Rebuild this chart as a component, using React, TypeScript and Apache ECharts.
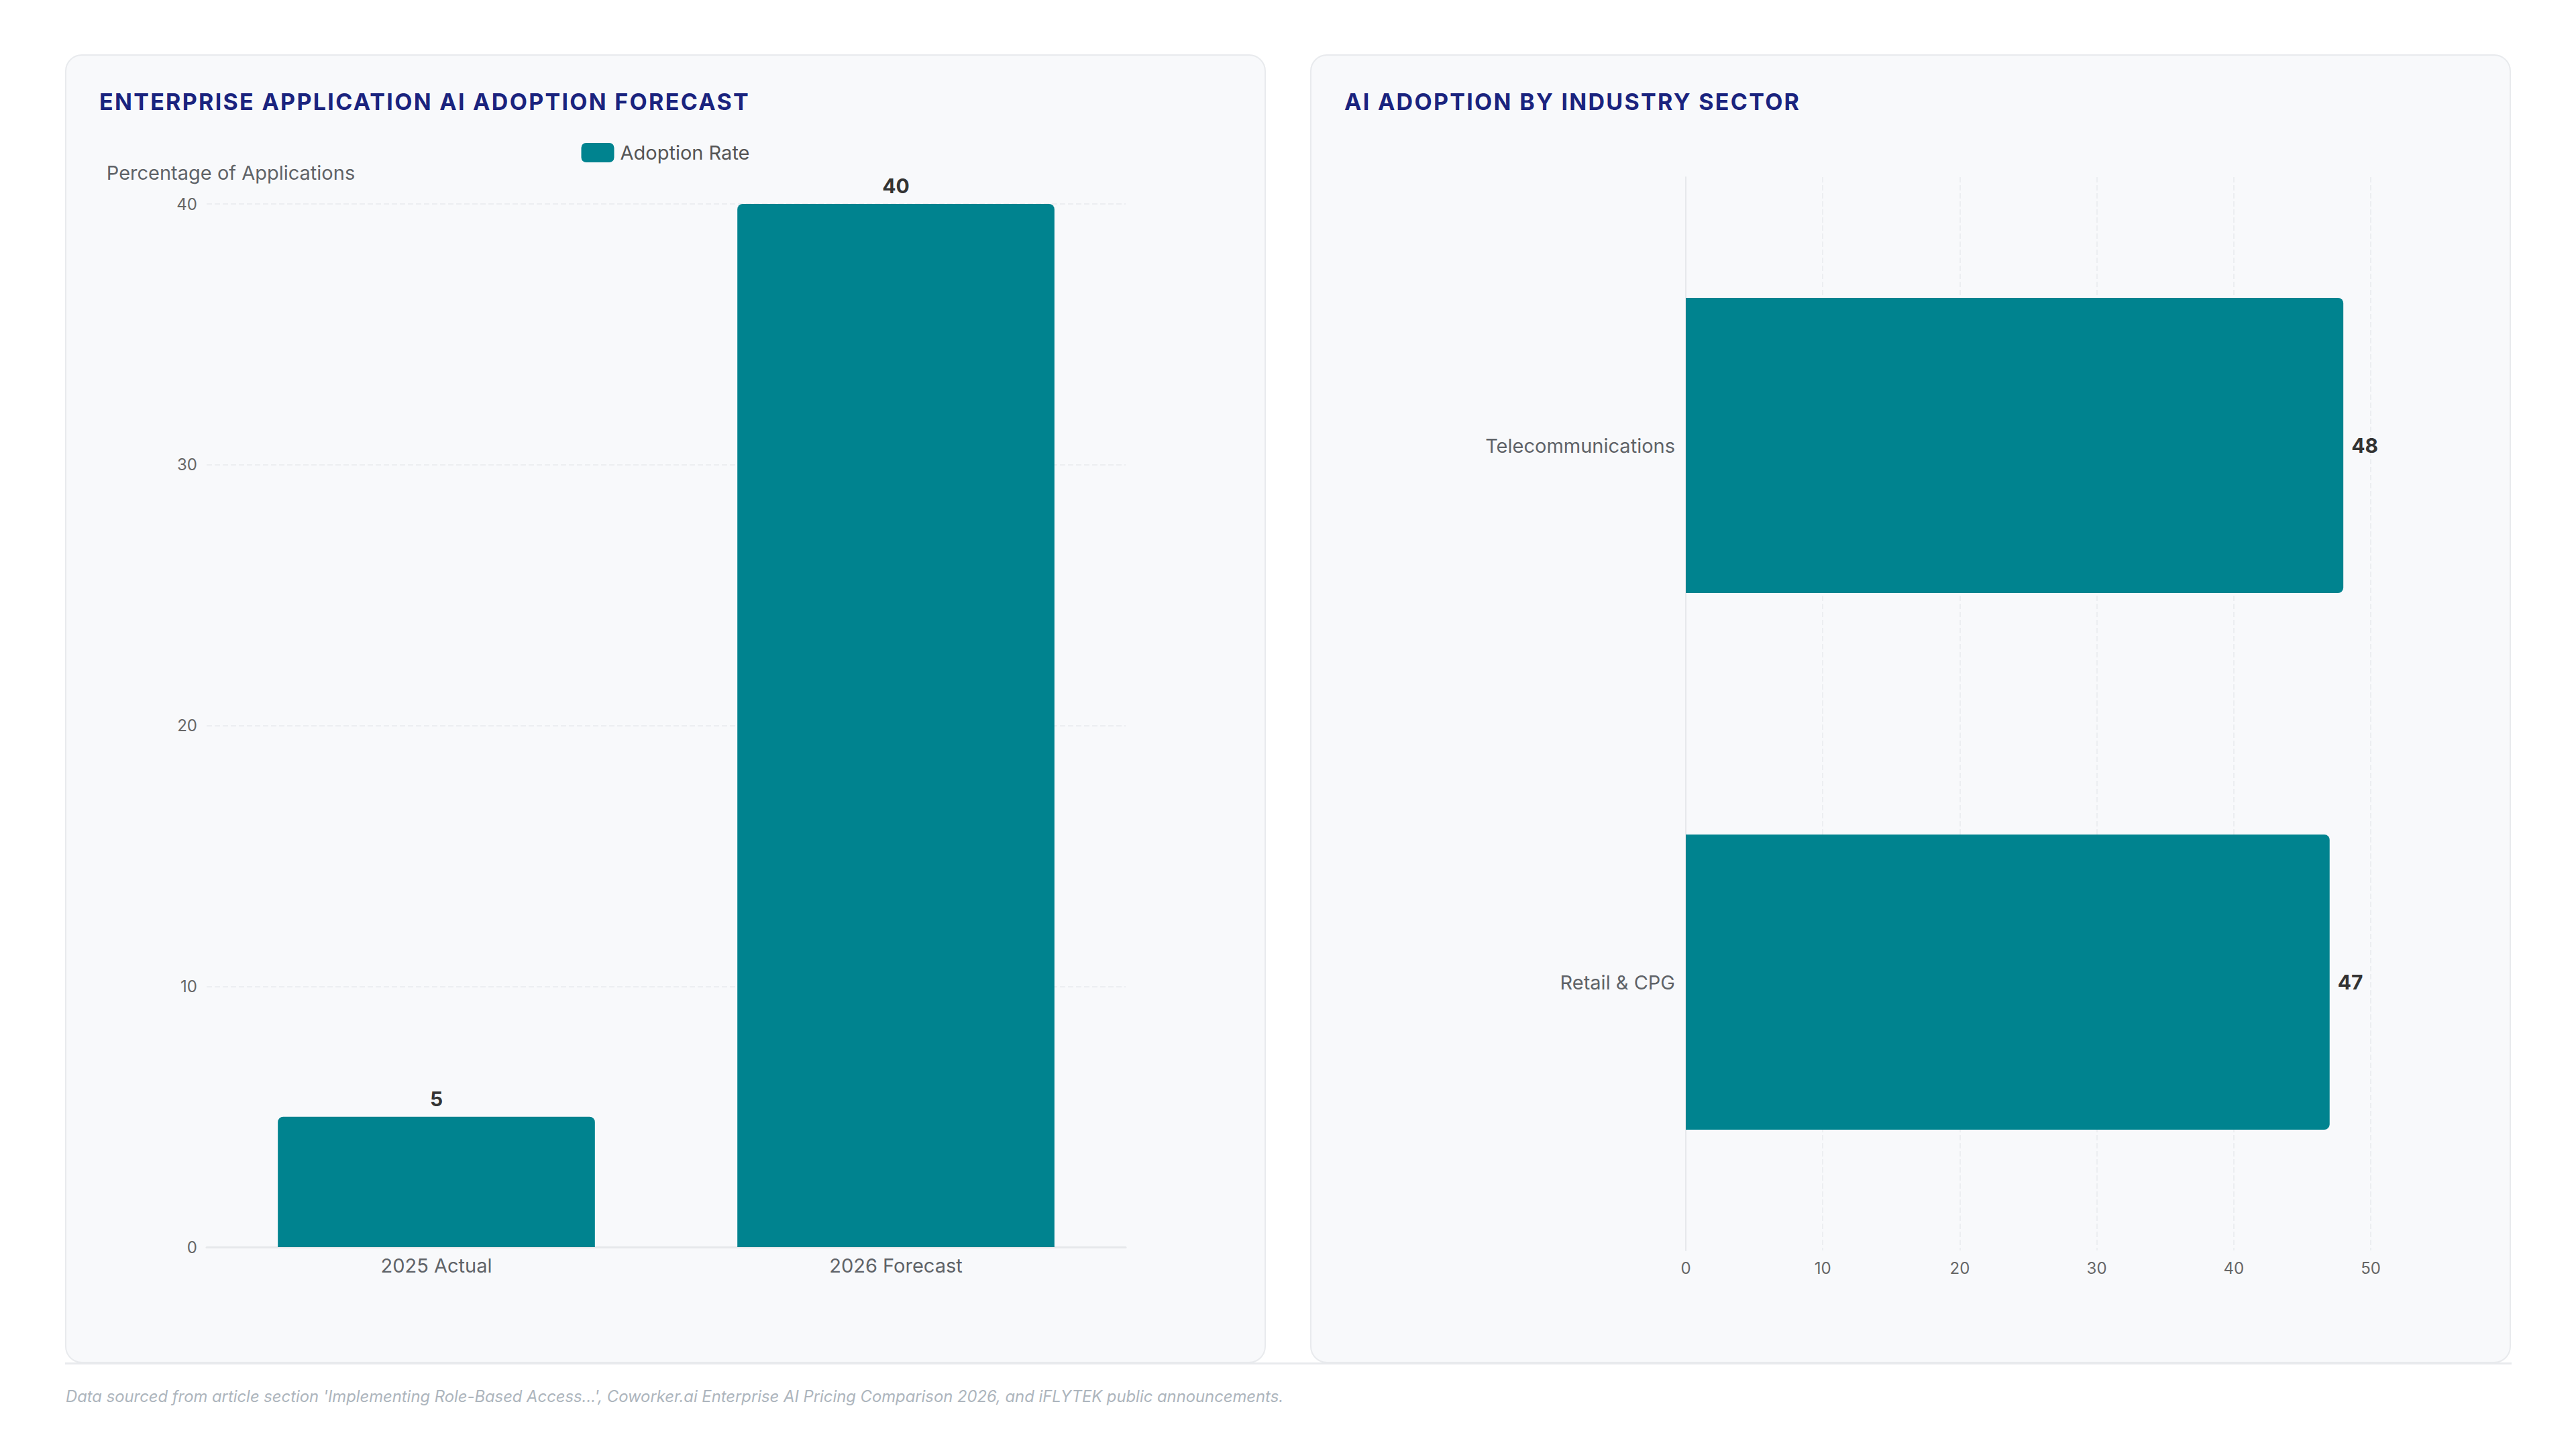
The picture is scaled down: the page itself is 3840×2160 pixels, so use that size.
import React, { useEffect, useRef } from 'react'
import * as echarts from 'echarts'

const forecastCategories = ['2025 Actual', '2026 Forecast']
const forecastValues = [5, 40]
const forecastTicks = { min: 0, max: 40, interval: 10 }

const sectorCategories = ['Telecommunications', 'Retail & CPG']
const sectorValues = [48, 47]
const sectorTicks = { min: 0, max: 50, interval: 10 }

const TEAL = '#00838f'
const NAVY = '#1a237e'
const FONT = 'Inter, "Noto Sans", sans-serif'

const ForecastChart: React.FC = () => {
    const chartRef = useRef<HTMLDivElement | null>(null)

    useEffect(() => {
        if (!chartRef.current) return
        const chart = echarts.init(chartRef.current, undefined, { renderer: 'svg' })
        chart.setOption({
            animation: false,
            textStyle: { fontFamily: FONT },
            legend: {
                data: ['Adoption Rate'],
                top: 81,
                left: 'center',
                padding: 0,
                itemWidth: 49,
                itemHeight: 29,
                itemGap: 12,
                textStyle: { color: '#555', fontSize: 29, fontFamily: FONT, padding: [0, 0, 0, 4] },
            },
            grid: { left: 160, right: 158, top: 172, bottom: 122, outerBoundsMode: 'none' },
            xAxis: {
                type: 'category',
                data: forecastCategories,
                axisLine: { lineStyle: { color: '#e6e8eb', width: 3 } },
                axisTick: { show: false },
                axisLabel: { color: '#5f6368', fontSize: 29, margin: 13, fontFamily: FONT },
            },
            yAxis: {
                type: 'value',
                ...forecastTicks,
                name: 'Percentage of Applications',
                nameGap: 32,
                // nudged right a little so the whole name stays inside the chart
                nameTextStyle: {
                    color: '#5f6368',
                    fontSize: 29,
                    fontFamily: FONT,
                    align: 'center',
                    padding: [0, 0, 0, 72],
                },
                axisLine: { show: false },
                axisTick: { show: false },
                axisLabel: { color: '#666', fontSize: 24, margin: 14, fontFamily: FONT },
                splitLine: { lineStyle: { color: '#eceef1', type: 'dashed', width: 2 } },
            },
            series: [
                {
                    name: 'Adoption Rate',
                    type: 'bar',
                    data: forecastValues,
                    barWidth: '69%',
                    itemStyle: { color: TEAL, borderRadius: [8, 8, 0, 0] },
                    label: {
                        show: true,
                        position: 'top',
                        distance: 12,
                        color: '#333',
                        fontSize: 30,
                        fontWeight: 'bold',
                        fontFamily: FONT,
                    },
                },
            ],
        })
        return () => chart.dispose()
    }, [])

    return <div ref={chartRef} style={{ width: '100%', height: '100%' }} />
}

const SectorChart: React.FC = () => {
    const chartRef = useRef<HTMLDivElement | null>(null)

    useEffect(() => {
        if (!chartRef.current) return
        const chart = echarts.init(chartRef.current, undefined, { renderer: 'svg' })
        chart.setOption({
            animation: false,
            textStyle: { fontFamily: FONT },
            grid: { left: 509, right: 158, top: 132, bottom: 117, outerBoundsMode: 'none' },
            xAxis: {
                type: 'value',
                ...sectorTicks,
                axisLine: { show: false },
                axisTick: { show: false },
                axisLabel: { color: '#666', fontSize: 24, margin: 14, fontFamily: FONT },
                splitLine: { lineStyle: { color: '#eceef1', type: 'dashed', width: 2 } },
            },
            yAxis: {
                type: 'category',
                data: sectorCategories,
                inverse: true,
                axisLine: { show: true, lineStyle: { color: '#e6e8eb', width: 2 } },
                axisTick: { show: false },
                axisLabel: { color: '#5f6368', fontSize: 29, margin: 16, fontFamily: FONT },
            },
            series: [
                {
                    name: 'Adoption Rate',
                    type: 'bar',
                    data: sectorValues,
                    barWidth: '55%',
                    itemStyle: { color: TEAL, borderRadius: [0, 8, 8, 0] },
                    label: {
                        show: true,
                        position: 'right',
                        distance: 12,
                        color: '#333',
                        fontSize: 30,
                        fontWeight: 'bold',
                        fontFamily: FONT,
                    },
                },
            ],
        })
        return () => chart.dispose()
    }, [])

    return <div ref={chartRef} style={{ width: '100%', height: '100%' }} />
}

const cardStyle = (left: number): React.CSSProperties => ({
    position: 'absolute',
    left,
    top: 81,
    width: 1790,
    height: 1951,
    boxSizing: 'border-box',
    background: '#f8f9fb',
    border: '2px solid #e8eaed',
    borderRadius: 25,
})

const titleStyle: React.CSSProperties = {
    position: 'absolute',
    left: 49,
    top: 48,
    margin: 0,
    fontSize: 34,
    lineHeight: '41px',
    fontWeight: 700,
    letterSpacing: 2.3,
    color: NAVY,
    whiteSpace: 'nowrap',
    zIndex: 2,
}

const chartBox: React.CSSProperties = {
    position: 'absolute',
    left: 49,
    top: 49,
    right: 49,
    bottom: 49,
}

export default function App() {
    return (
        <div
            style={{
                position: 'fixed',
                left: 0,
                top: 0,
                width: 3840,
                height: 2160,
                background: '#ffffff',
                overflow: 'hidden',
                fontFamily: FONT,
            }}
        >
            <div style={cardStyle(97)}>
                <div style={chartBox}>
                    <ForecastChart />
                </div>
                <div style={titleStyle}>ENTERPRISE APPLICATION AI ADOPTION FORECAST</div>
            </div>
            <div style={cardStyle(1953)}>
                <div style={chartBox}>
                    <SectorChart />
                </div>
                <div style={titleStyle}>AI ADOPTION BY INDUSTRY SECTOR</div>
            </div>
            <div
                style={{
                    position: 'absolute',
                    left: 97,
                    top: 2031,
                    width: 3647,
                    height: 3,
                    background: '#e8eaed',
                }}
            />
            <div
                style={{
                    position: 'absolute',
                    left: 98,
                    top: 2066,
                    fontSize: 23.8,
                    lineHeight: '32px',
                    fontStyle: 'italic',
                    color: '#adb5bd',
                    whiteSpace: 'nowrap',
                }}
            >
                Data sourced from article section 'Implementing Role-Based Access...', Coworker.ai Enterprise AI Pricing Comparison 2026, and iFLYTEK public announcements.
            </div>
        </div>
    )
}
